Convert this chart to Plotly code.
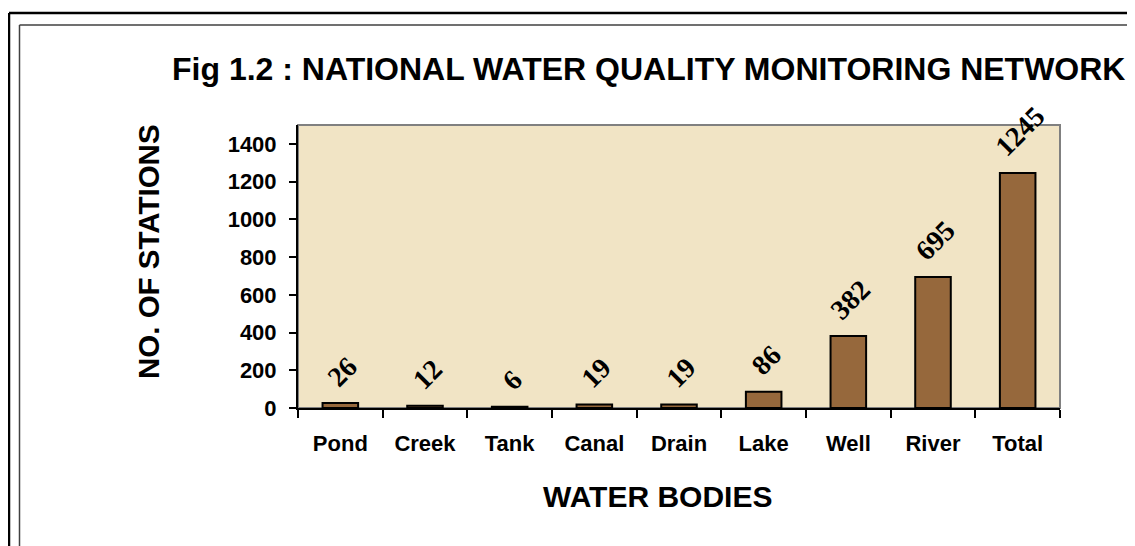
import plotly.graph_objects as go

categories = ['Pond', 'Creek', 'Tank', 'Canal', 'Drain', 'Lake', 'Well', 'River', 'Total']
stations = [26, 12, 6, 19, 19, 86, 382, 695, 1245]
y_ticks = [0, 200, 400, 600, 800, 1000, 1200, 1400]

PAGE_W, PAGE_H = 1135, 546
OFF = 8  # the html body margin shifts the figure by 8px
# plot area edges in page pixels
L, R, T, B = 298, 1060, 125, 408


def px(x):
    return (x - L) / (R - L)


def py(y):
    return (B - y) / (B - T)


sans = 'Liberation Sans'
serif = 'Liberation Serif'

fig = go.Figure()
fig.add_trace(go.Bar(
    x=categories,
    y=stations,
    marker=dict(color='#96683C', line=dict(color='black', width=2)),
    hoverinfo='x+y',
))

# value labels, rotated like the original
for c, v in zip(categories, stations):
    fig.add_annotation(
        x=c, y=v, text=str(v), textangle=-45,
        xanchor='center', yanchor='bottom', yshift=8, xshift=2,
        showarrow=False,
        font=dict(family=serif, size=28, color='black', weight='bold'),
    )

# title and axis titles
fig.add_annotation(
    xref='paper', yref='paper', x=px(648.5), y=py(69),
    text='Fig 1.2 : NATIONAL WATER QUALITY MONITORING NETWORK',
    xanchor='center', yanchor='middle', showarrow=False,
    font=dict(family=sans, size=32, color='black', weight='bold'),
)
fig.add_annotation(
    xref='paper', yref='paper', x=px(148), y=py(252),
    text='NO. OF STATIONS', textangle=-90,
    xanchor='center', yanchor='middle', showarrow=False,
    font=dict(family=sans, size=29.5, color='black', weight='bold'),
)
fig.add_annotation(
    xref='paper', yref='paper', x=px(657), y=py(496),
    text='WATER BODIES',
    xanchor='center', yanchor='middle', showarrow=False,
    font=dict(family=sans, size=30, color='black', weight='bold'),
)

# plot area frame (grey) and the double page border
fig.add_shape(type='rect', xref='x domain', yref='y domain',
              x0=0, x1=1, y0=0, y1=1, layer='below',
              line=dict(color='#808080', width=2))
borders = [
    (9, 13, 2.5, 'black'),
    (19.5, 25, 1.5, '#404040'),
]
for bx, by, lw, col in borders:
    fig.add_shape(type='line', xref='paper', yref='paper',
                  x0=px(bx), x1=px(bx), y0=py(by), y1=py(700),
                  line=dict(color=col, width=lw))
    fig.add_shape(type='line', xref='paper', yref='paper',
                  x0=px(bx), x1=px(1300), y0=py(by), y1=py(by),
                  line=dict(color=col, width=lw))

fig.update_layout(
    width=PAGE_W - OFF, height=PAGE_H - OFF,
    margin=dict(l=L - OFF, r=PAGE_W - R, t=T - OFF, b=PAGE_H - B, pad=0),
    paper_bgcolor='white',
    plot_bgcolor='#F1E4C5',
    bargap=0.58,
    showlegend=False,
    font=dict(family=sans, color='black'),
    xaxis=dict(
        type='category',
        showline=True, linecolor='black', linewidth=2,
        ticks='outside', tickson='boundaries', ticklen=8,
        tickwidth=1.5, tickcolor='black', ticklabelstandoff=15,
        tickfont=dict(family=sans, size=22, color='black', weight='bold'),
        showgrid=False,
    ),
    yaxis=dict(
        range=[0, 1500], tickvals=y_ticks,
        showline=True, linecolor='black', linewidth=2,
        ticks='outside', ticklen=7, tickwidth=1.5, tickcolor='black',
        ticklabelstandoff=8,
        tickfont=dict(family=sans, size=22, color='black', weight='bold'),
        showgrid=False, zeroline=False,
    ),
)

fig.write_html('out.html')
